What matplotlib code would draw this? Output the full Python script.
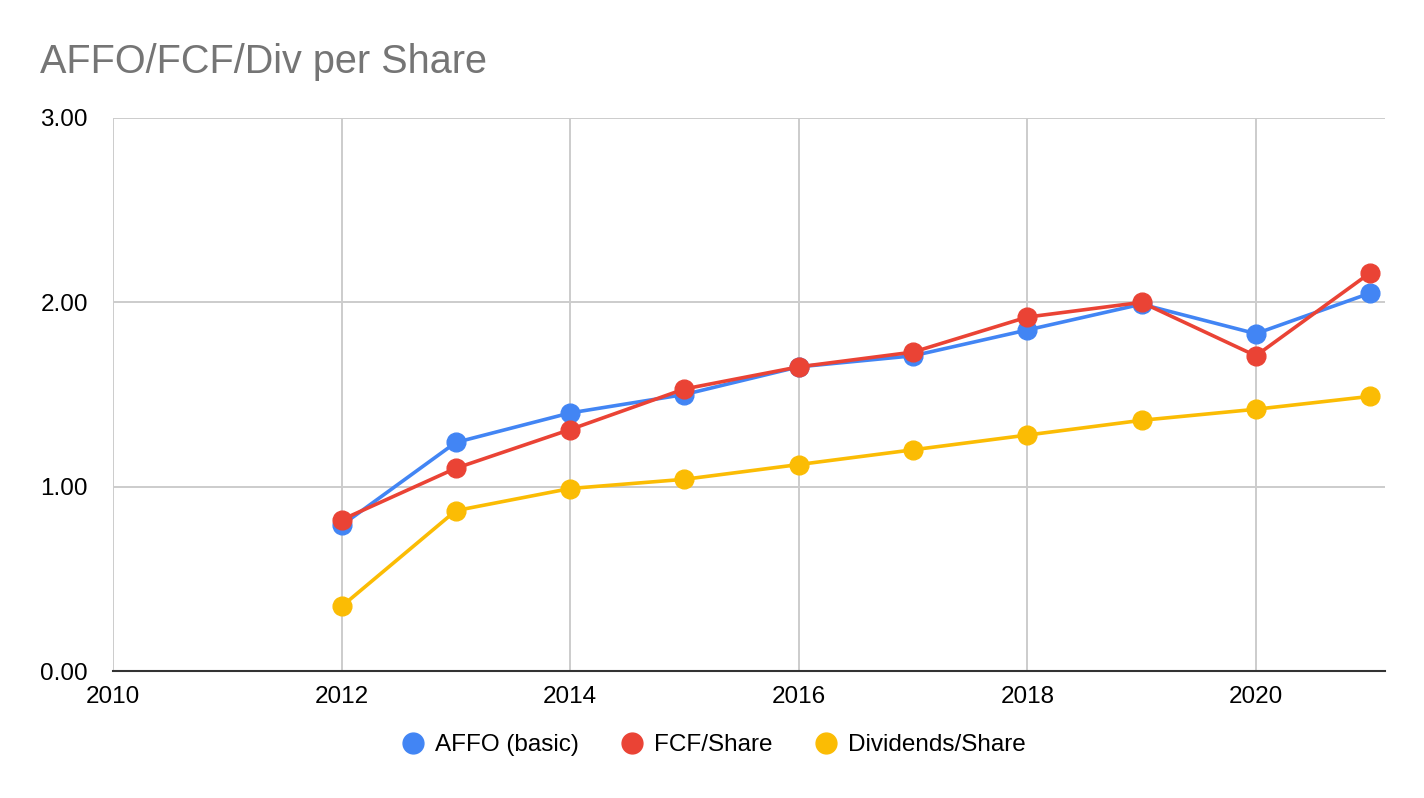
import matplotlib
matplotlib.use("Agg")
import matplotlib.pyplot as plt
from matplotlib.lines import Line2D

plt.rcParams['font.family'] = ['Liberation Sans', 'DejaVu Sans']

years = [2012, 2013, 2014, 2015, 2016, 2017, 2018, 2019, 2020, 2021]
affo = [0.79, 1.24, 1.40, 1.50, 1.65, 1.71, 1.85, 1.99, 1.83, 2.05]
fcf = [0.82, 1.10, 1.31, 1.53, 1.65, 1.73, 1.92, 2.00, 1.71, 2.16]
divs = [0.35, 0.87, 0.99, 1.04, 1.12, 1.20, 1.28, 1.36, 1.42, 1.49]
series_names = ["AFFO (basic)", "FCF/Share", "Dividends/Share"]
colors = ["#4285F4", "#EA4335", "#FBBC04"]
xticks = [2010, 2012, 2014, 2016, 2018, 2020]
yticks = [0.0, 1.0, 2.0, 3.0]

W, H = 1424, 798
fig = plt.figure(figsize=(W / 100, H / 100), dpi=100)
ax = fig.add_axes([113 / W, 1 - 671 / H, (1385 - 113) / W, (671 - 118) / H])

for vals, c, name in zip([affo, fcf, divs], colors, series_names):
    ax.plot(years, vals, color=c, lw=2.6, marker='o', markersize=13.5,
            label=name, zorder=3, solid_capstyle='round', clip_on=False)

ax.set_xlim(2010, 2021.13)
ax.set_ylim(0, 3)
ax.set_xticks(xticks)
ax.set_xticklabels([str(x) for x in xticks])
ax.set_yticks(yticks)
ax.set_yticklabels([f"{y:.2f}" for y in yticks])
ax.grid(True, color="#cccccc", lw=1.4, zorder=0)
ax.set_axisbelow(True)
for s in ['top', 'right', 'left']:
    ax.spines[s].set_visible(False)
ax.spines['bottom'].set_color('#333333')
ax.spines['bottom'].set_linewidth(1.5)
ax.spines['bottom'].set_zorder(2)
ax.tick_params(axis='both', length=0, labelsize=17.5, colors='#000000')
ax.tick_params(axis='y', pad=18)
ax.tick_params(axis='x', pad=11)

fig.text(40 / W, 1 - 62 / H, "AFFO/FCF/Div per Share", fontsize=28.5,
         color="#757575", va='center', ha='left')

handles = [Line2D([], [], color=c, marker='o', linestyle='none', markersize=15)
           for c in colors]
fig.legend(handles, series_names, loc='center', bbox_to_anchor=(712 / W, 1 - 745 / H),
           ncol=3, frameon=False, fontsize=17.5, handletextpad=0.3,
           columnspacing=1.6, handlelength=1.2)

fig.savefig("out.png", dpi=100)
